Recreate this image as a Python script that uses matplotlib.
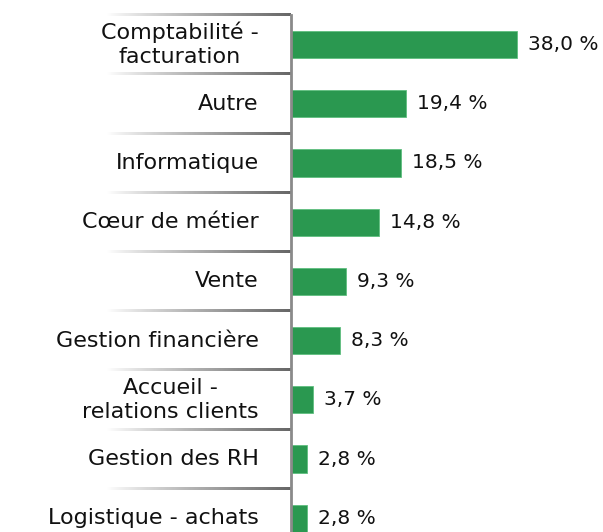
import matplotlib
matplotlib.use("Agg")
import matplotlib.pyplot as plt
import numpy as np

categories = ["Comptabilité -\nfacturation", "Autre", "Informatique", "Cœur de métier",
              "Vente", "Gestion financière", "Accueil -\nrelations clients",
              "Gestion des RH", "Logistique - achats"]
values = [38.0, 19.4, 18.5, 14.8, 9.3, 8.3, 3.7, 2.8, 2.8]
value_labels = ["38,0 %", "19,4 %", "18,5 %", "14,8 %", "9,3 %", "8,3 %", "3,7 %", "2,8 %", "2,8 %"]

W, H = 603, 532
fig = plt.figure(figsize=(W / 100, H / 100), dpi=100)
plt.rcParams['font.family'] = ['DejaVu Sans']

top_px, row_px = 15, 59.2
n = len(categories)
bottom_px = top_px + row_px * n
x0_px = 290.5
px_per_unit = 5.95
xmax = 52
ax = fig.add_axes([x0_px / W, 1 - bottom_px / H, xmax * px_per_unit / W, (bottom_px - top_px) / H])

y = np.arange(n)
ax.barh(y, values, height=0.46, color="#2a9850", edgecolor="#5fbf7f", linewidth=0.6, zorder=3)
for s in ["top", "right", "bottom"]:
    ax.spines[s].set_visible(False)
ax.spines["left"].set_color("#8a8a8a")
ax.spines["left"].set_linewidth(2)
ax.spines["left"].set_zorder(5)
ax.set_xticks([])
ax.set_yticks([])

for yi, v, lab in zip(y, values, value_labels):
    ax.text(v + 11 / px_per_unit, yi, lab, va="center", ha="left", fontsize=14.5, color="#111111")

# category labels
lab_x = -32 / px_per_unit
for yi, c in zip(y, categories):
    ax.text(lab_x, yi, c, va="center", ha="right", multialignment="center",
            fontsize=16, color="#111111", linespacing=1.25, clip_on=False)

# gradient separators
grad_start = -(x0_px - 107) / px_per_unit
g = np.linspace(0, 1, 256) ** 0.9
gray = 1 - g * (1 - 0.40)
img = np.dstack([gray, gray, gray])
half = 1.2 / row_px
for b in np.arange(n + 1) - 0.5:
    ax.imshow(img, extent=(grad_start, 0, b + half, b - half), aspect="auto",
              interpolation="bilinear", clip_on=False, zorder=4)

ax.set_ylim(n - 0.5, -0.5)
ax.set_xlim(0, xmax)

fig.savefig("out.png", dpi=100)
